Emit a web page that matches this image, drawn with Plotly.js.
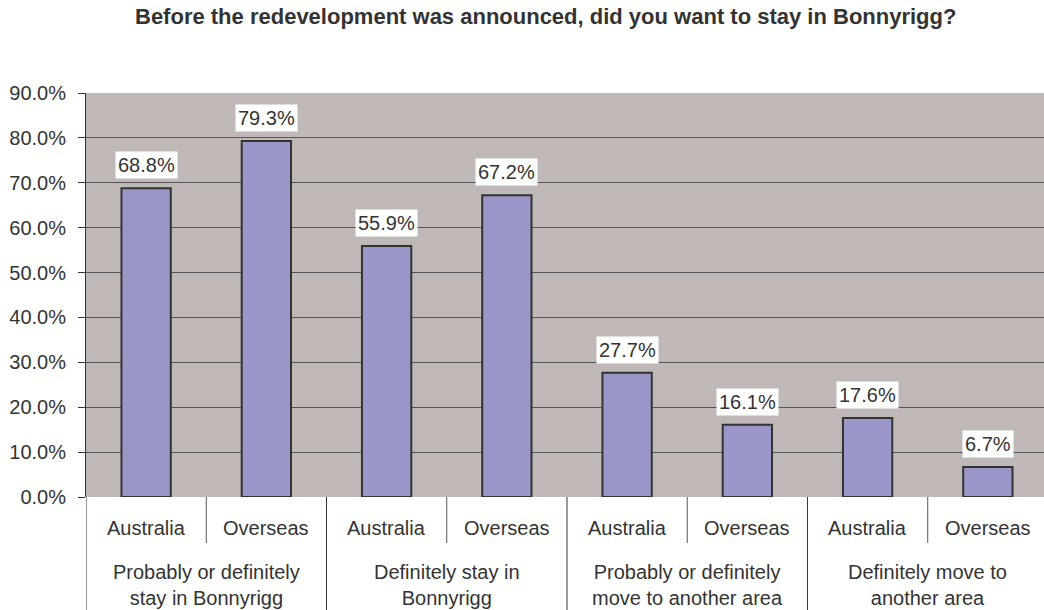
<!DOCTYPE html>
<html>
<head>
<meta charset="utf-8">
<script src="https://cdn.plot.ly/plotly-3.0.1.min.js"></script>
<style>html,body{margin:0;padding:0;background:#fff;}#chart{width:1044px;height:610px;}</style>
</head>
<body>
<div id="chart"></div>
<script>
const groups = ["Probably or definitely<br>stay in Bonnyrigg", "Definitely stay in<br>Bonnyrigg", "Probably or definitely<br>move to another area", "Definitely move to<br>another area"];
const subLabels = ["Australia", "Overseas", "Australia", "Overseas", "Australia", "Overseas", "Australia", "Overseas"];
const values = [68.8, 79.3, 55.9, 67.2, 27.7, 16.1, 17.6, 6.7];
const titleText = "Before the redevelopment was announced, did you want to stay in Bonnyrigg?";

const idx = values.map((v, i) => i);
const FONT = "Liberation Sans, Arial, sans-serif";
const TXT = "#333333";
const plotH = 610 - 93 - 113;
const plotW = 1044 - 86;

const annotations = [];
values.forEach((v, i) => {
  annotations.push({x: i, y: v, xref: "x", yref: "y", text: v.toFixed(1) + "%", showarrow: false,
    yanchor: "bottom", yshift: 9, bgcolor: "#ffffff", borderpad: 2,
    font: {family: FONT, size: 20, color: TXT}});
});
subLabels.forEach((s, i) => {
  annotations.push({x: i, y: 0, xref: "x", yref: "paper", text: s, showarrow: false,
    yanchor: "middle", yshift: -31, font: {family: FONT, size: 20, color: TXT}});
});
groups.forEach((g, j) => {
  annotations.push({x: 2 * j + 0.5, y: 0, xref: "x", yref: "paper", text: g, showarrow: false,
    yanchor: "middle", yshift: -88, font: {family: FONT, size: 20, color: TXT}});
});
annotations.push({x: (545 - 86) / plotW, xref: "paper", y: 1 + (93 - 16) / plotH, yref: "paper",
  xanchor: "center", yanchor: "middle", text: "<b>" + titleText + "</b>",
  showarrow: false, font: {family: FONT, size: 22, color: TXT}});

const shapes = [];
for (let k = 0; k < values.length; k++) {
  const xb = k - 0.5;
  const isGroup = (k % 2 === 0);
  const bottom = isGroup ? -113 / plotH : -46 / plotH;
  shapes.push({type: "line", xref: "x", yref: "paper", x0: xb, x1: xb, y0: 0, y1: bottom,
    line: {color: isGroup ? "#333333" : "#555555", width: 1}});
}

const trace = {
  type: "bar", x: idx, y: values, width: 0.41,
  marker: {color: "#9B96C8", line: {color: "#333333", width: 2}},
  hoverinfo: "skip"
};

const layout = {
  width: 1044, height: 610,
  margin: {l: 86, r: 0, t: 93, b: 113, pad: 0},
  paper_bgcolor: "#ffffff", plot_bgcolor: "#C0B8B6",
  showlegend: false,
  xaxis: {range: [-0.5, 7.467], showticklabels: false, ticks: "", showgrid: false, zeroline: false, showline: false, fixedrange: true},
  yaxis: {range: [0, 90], dtick: 10, tick0: 0, tickformat: ".1f", ticksuffix: "%",
    showgrid: true, gridcolor: "#555555", gridwidth: 1, zeroline: false,
    showline: true, linecolor: "#333333", linewidth: 1, ticks: "outside", ticklen: 7, tickcolor: "#333333",
    ticklabelstandoff: 8, tickfont: {family: FONT, size: 20, color: TXT}},
  annotations: annotations, shapes: shapes,
  bargap: 0.59
};

Plotly.newPlot("chart", [trace], layout, {displayModeBar: false, staticPlot: true});
</script>
</body>
</html>
